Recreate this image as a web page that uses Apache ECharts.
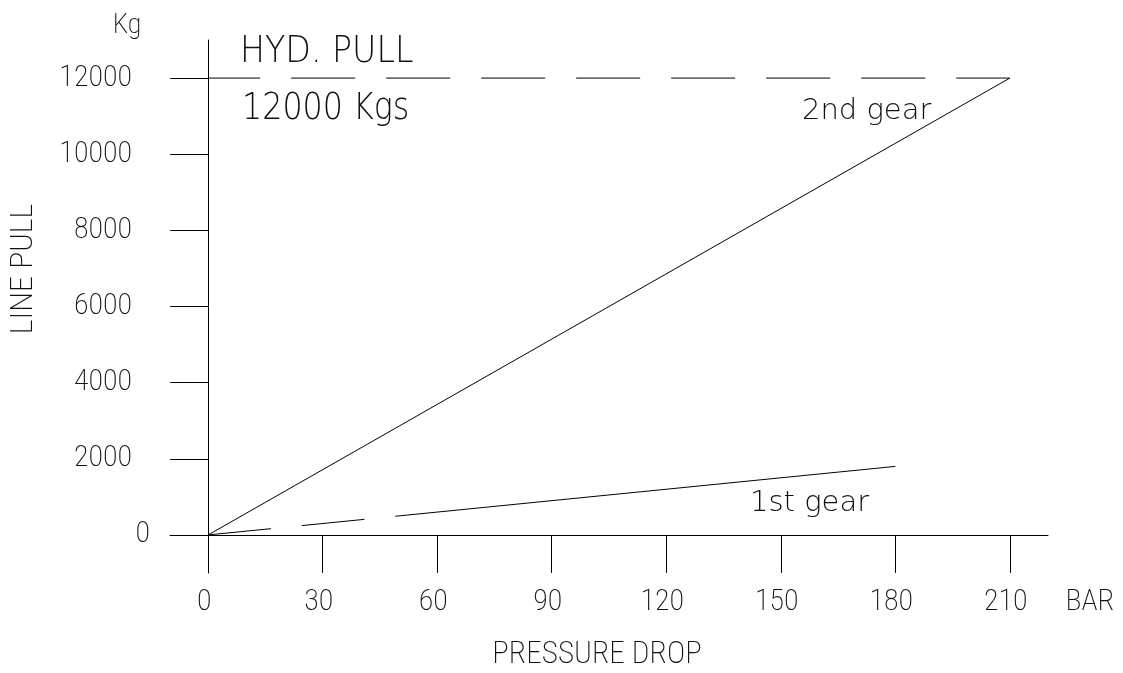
<!DOCTYPE html>
<html>
<head>
<meta charset="utf-8">
<script src="https://cdn.jsdelivr.net/npm/echarts@6/dist/echarts.min.js"></script>
<style>html,body{margin:0;padding:0;background:#fff}#c{width:1123px;height:673px}</style>
</head>
<body>
<div id="c"></div>
<script>
// ---- data ----
var xTicks = [0, 30, 60, 90, 120, 150, 180, 210];
var yTicks = [0, 2000, 4000, 6000, 8000, 10000, 12000];
var hydPull = [[0, 12000], [210, 12000]];
var gear2 = [[0, 0], [210, 12000]];
var gear1Dashed = [[0, 0], [49, 490]];
var gear1Solid = [[49, 490], [180, 1800]];

var COND = '"Roboto Condensed", "DejaVu Sans Condensed", sans-serif';
var THIN = '"DejaVu Sans", sans-serif';
var INK = '#111';

var chart = echarts.init(document.getElementById('c'), null, {renderer: 'canvas'});
var lineBase = {type: 'line', symbol: 'none', silent: true, animation: false};
chart.setOption({
  backgroundColor: '#fff',
  animation: false,
  grid: {left: 170, right: 75, top: 40, bottom: 100, containLabel: false, outerBoundsMode: 'none'},
  xAxis: {
    type: 'value', min: -10, max: 220,
    name: 'PRESSURE DROP', nameLocation: 'middle', nameGap: 67,
    nameTextStyle: {fontFamily: COND, fontWeight: 200, fontSize: 31, color: INK, padding: [0, 24, 0, 0]},
    axisLine: {show: true, onZero: true, lineStyle: {color: '#000', width: 1}},
    axisTick: {show: true, customValues: xTicks, length: 38, inside: false, lineStyle: {color: '#000', width: 1}},
    axisLabel: {show: true, customValues: xTicks, fontFamily: COND, fontWeight: 200, fontSize: 30, color: INK,
      margin: 29, verticalAlign: 'middle', padding: [0, 8, 0, 0], formatter: function (v) { return String(v); }},
    splitLine: {show: false}
  },
  yAxis: {
    type: 'value', min: -1000, max: 13000,
    axisLine: {show: true, onZero: true, lineStyle: {color: '#000', width: 1}},
    axisTick: {show: true, customValues: yTicks, length: 38, inside: false, lineStyle: {color: '#000', width: 1}},
    axisLabel: {show: true, customValues: yTicks, fontFamily: COND, fontWeight: 200, fontSize: 30, color: INK, margin: 38,
      formatter: function (v) { return v === 0 ? '{z|0}' : String(v); },
      rich: {z: {fontFamily: COND, fontWeight: 200, fontSize: 30, color: INK, padding: [0, -18, 0, 0]}}},
    splitLine: {show: false}
  },
  series: [
    Object.assign({}, lineBase, {name: 'HYD. PULL', data: hydPull,
      lineStyle: {color: '#000', width: 1, type: [64, 31], dashOffset: 12}}),
    Object.assign({}, lineBase, {name: '2nd gear', data: gear2,
      lineStyle: {color: '#000', width: 1, type: 'solid'}}),
    Object.assign({}, lineBase, {name: '1st gear dashed', data: gear1Dashed,
      lineStyle: {color: '#000', width: 1, type: [63, 31]}}),
    Object.assign({}, lineBase, {name: '1st gear', data: gear1Solid,
      lineStyle: {color: '#000', width: 1, type: 'solid'}})
  ],
  graphic: [
    {type: 'text', x: 240, y: 52, scaleX: 0.875, style: {text: 'HYD. PULL', font: '200 38px ' + THIN, fill: INK, textAlign: 'left', textVerticalAlign: 'middle'}, silent: true},
    {type: 'text', x: 242, y: 109.5, scaleX: 0.835, style: {text: '12000 Kgs', font: '200 38px ' + THIN, fill: INK, textAlign: 'left', textVerticalAlign: 'middle'}, silent: true},
    {type: 'text', x: 802, y: 111, style: {text: '2nd gear', font: '200 29px ' + THIN, fill: INK, textAlign: 'left', textVerticalAlign: 'middle'}, silent: true},
    {type: 'text', x: 750, y: 503.5, style: {text: '1st gear', font: '200 29px ' + THIN, fill: INK, textAlign: 'left', textVerticalAlign: 'middle'}, silent: true},
    {type: 'text', x: 127, y: 26, style: {text: 'Kg', font: '200 28px ' + COND, fill: INK, textAlign: 'center', textVerticalAlign: 'middle'}, silent: true},
    {type: 'text', x: 1090, y: 602, style: {text: 'BAR', font: '200 30px ' + COND, fill: INK, textAlign: 'center', textVerticalAlign: 'middle'}, silent: true},
    {type: 'text', x: 24, y: 269, rotation: Math.PI / 2, style: {text: 'LINE PULL', font: '200 32px ' + COND, fill: INK, textAlign: 'center', textVerticalAlign: 'middle'}, silent: true}
  ]
});
</script>
</body>
</html>
